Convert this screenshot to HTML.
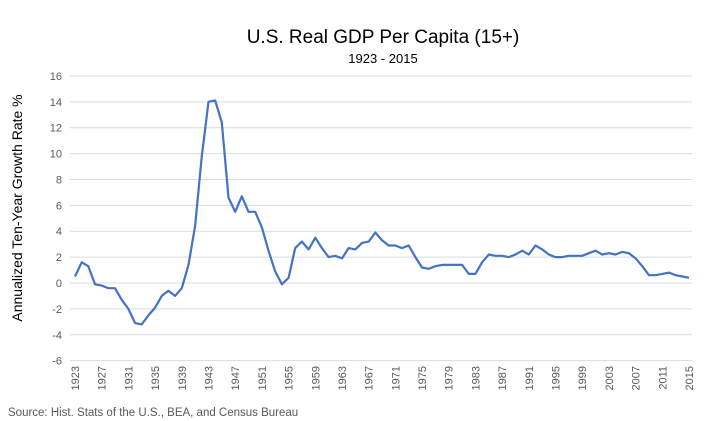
<!DOCTYPE html>
<html><head><meta charset="utf-8"><style>
body{margin:0;background:#fff;}
svg{font-family:"Liberation Sans",sans-serif;display:block}
</style></head><body>
<svg id="chart" width="704" height="421">
<rect width="704" height="421" fill="#fff"/>
<text x="383" y="43" font-size="19" text-anchor="middle" fill="#000">U.S. Real GDP Per Capita (15+)</text>
<text x="383" y="63" font-size="13" text-anchor="middle" fill="#000">1923 - 2015</text>
<text transform="translate(22,208) rotate(-90)" font-size="14" text-anchor="middle" fill="#000">Annualized Ten-Year Growth Rate %</text>
<text x="8" y="416" font-size="11.5" fill="#595959">Source: Hist. Stats of the U.S., BEA, and Census Bureau</text>
<g id="grid"></g><g id="yl"></g><g id="xl"></g><g id="ln"></g>
</svg>
<script>
const years=[];for(let y=1923;y<=2015;y++)years.push(y);
const values=[0.5,1.6,1.3,-0.1,-0.2,-0.4,-0.4,-1.3,-2.0,-3.1,-3.2,-2.5,-1.9,-1.0,-0.6,-1.0,-0.4,1.4,4.4,9.8,14.0,14.1,12.4,6.6,5.5,6.7,5.5,5.5,4.3,2.5,0.9,-0.1,0.4,2.7,3.2,2.6,3.5,2.7,2.0,2.1,1.9,2.7,2.6,3.1,3.2,3.9,3.3,2.9,2.9,2.7,2.9,2.0,1.2,1.1,1.3,1.4,1.4,1.4,1.4,0.7,0.7,1.6,2.2,2.1,2.1,2.0,2.2,2.5,2.2,2.9,2.6,2.2,2.0,2.0,2.1,2.1,2.1,2.3,2.5,2.2,2.3,2.2,2.4,2.3,1.9,1.3,0.6,0.6,0.7,0.8,0.6,0.5,0.4];
const yTicks=[16,14,12,10,8,6,4,2,0,-2,-4,-6];
const NS='http://www.w3.org/2000/svg';
const X0=75,X1=689,Y0=283,PU=12.94;
const xs=y=>X0+(y-1923)*(X1-X0)/(2015-1923);
const ys=v=>Y0-v*PU;
function mk(t,a,p){const e=document.createElementNS(NS,t);for(const k in a)e.setAttribute(k,a[k]);p.appendChild(e);return e;}
const grid=document.getElementById('grid'),yl=document.getElementById('yl'),xl=document.getElementById('xl'),ln=document.getElementById('ln');
yTicks.forEach(v=>{
 const l=mk('line',{x1:70,x2:692,y1:ys(v),y2:ys(v),stroke:'#d3dde6','stroke-width':1},grid);
 
 
 const t=mk('text',{x:62,y:ys(v)+4,'font-size':11,'text-anchor':'end',fill:'#595959'},yl);
 t.textContent=v;
 
 
});
years.forEach(y=>{
 if((y-1923)%4!==0)return;
 const x=xs(y);
 const t=mk('text',{transform:`translate(${x+4},366) rotate(-90)`,'font-size':11,'text-anchor':'end',fill:'#595959'},xl);
 t.textContent=y;
 
 
});
const pts=values.map((v,i)=>xs(years[i]).toFixed(1)+','+ys(v).toFixed(1)).join(' ');
const pl=mk('polyline',{points:pts,fill:'none',stroke:'#4472c4','stroke-width':2.2,'stroke-linejoin':'round'},ln);


</script>
</body></html>
